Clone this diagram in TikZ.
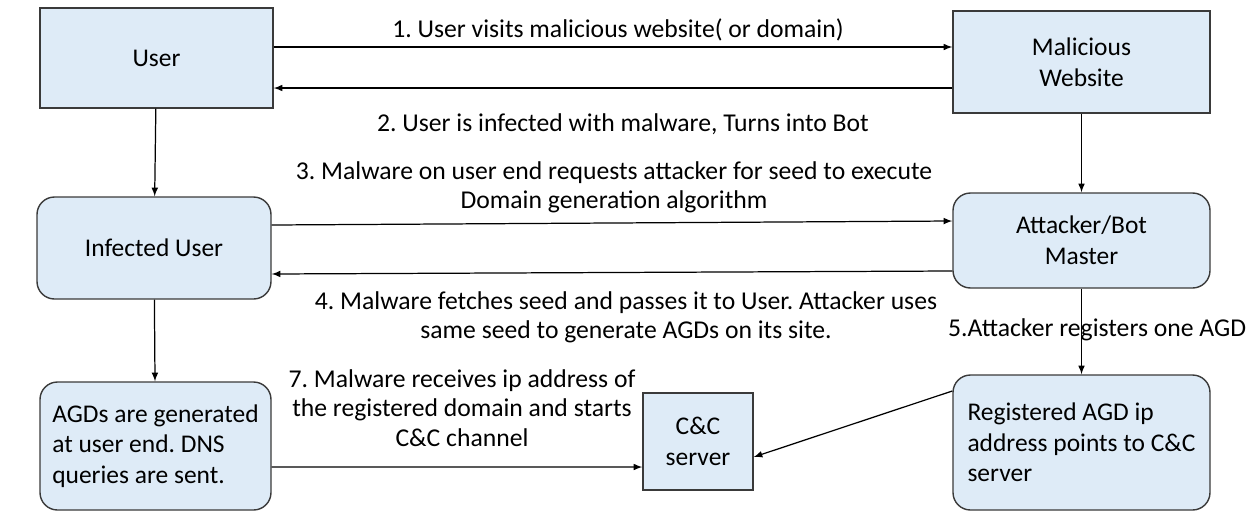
\documentclass[tikz,border=0pt]{standalone}
\usepackage{fontspec}
\setmainfont{Carlito}
\usetikzlibrary{arrows}
\definecolor{boxfill}{HTML}{DEEBF7}
\definecolor{boxline}{HTML}{3A3A3A}

\begin{document}
\begin{tikzpicture}[
    font=\fontsize{14.6pt}{16.8pt}\selectfont\frenchspacing,
    >=latex, line width=0.7pt,
    box/.style={draw=boxline, fill=boxfill, line width=0.8pt,
                font=\fontsize{14.5pt}{17.4pt}\selectfont\frenchspacing},
    roundbox/.style={box, rounded corners=0.35cm}
  ]
    \useasboundingbox (0,0) rectangle (25.06,-10.24);

    % boxes
    \node[box, minimum width=4.66cm, minimum height=2cm] (U) at (3.13,-1.16) {User};
    \node[box, minimum width=5.14cm, minimum height=2.04cm, align=center] (MW) at (21.63,-1.24) {Malicious\\Website};
    \node[roundbox, minimum width=4.68cm, minimum height=2.04cm] (IU) at (3.08,-4.96) {Infected User};
    \node[roundbox, minimum width=5.14cm, minimum height=1.9cm, align=center] (AB) at (21.63,-4.81) {Attacker/Bot\\Master};
    \node[roundbox, minimum width=4.62cm, minimum height=2.56cm, align=left] (AG) at (3.11,-8.92) {AGDs are generated\\at user end. DNS\\queries are sent.};
    \node[box, minimum width=2.2cm, minimum height=1.94cm, align=center] (CC) at (13.96,-8.83) {C\&C\\server};
    \node[roundbox, minimum width=5.14cm, minimum height=2.7cm, align=left] (RA) at (21.63,-8.85) {Registered AGD ip\\address points to C\&C\\server};

    % labels
    \node (L1) at (12.36,-0.6) {1. User visits malicious website( or domain)};
    \node (L2) at (12.46,-2.48) {2. User is infected with malware, Turns into Bot};
    \node[align=center] (L3) at (12.28,-3.75) {3. Malware on user end requests attacker for seed to execute\\Domain generation algorithm};
    \node[align=center] (L4) at (12.52,-6.35) {4. Malware fetches seed and passes it to User. Attacker uses\\same seed to generate AGDs on its site.};
    \node (L5) at (21.94,-6.6) {5.Attacker registers one AGD};
    \node[align=center] (L7) at (9.24,-8.16) {7. Malware receives ip address of\\the registered domain and starts\\C\&C channel};

    % arrows
    \draw[->] ([yshift=0.22cm]U.east) -- ([yshift=0.3cm]MW.west);
    \draw[->] ([yshift=-0.52cm]MW.west) -- ([yshift=-0.6cm]U.east);
    \draw[->] (U) -- (IU);
    \draw[->] (MW) -- (AB);
    \draw[->] ([yshift=0.46cm]IU.east) -- ([yshift=0.39cm]AB.west);
    \draw[->] ([yshift=-0.61cm]AB.west) -- ([yshift=-0.52cm]IU.east);
    \draw[->] (IU) -- (AG);
    \draw[->] (AB) -- (RA);
    \draw[->] ([yshift=-0.42cm]AG.east) -- ([yshift=-0.51cm]CC.west);
    \draw[->] ([yshift=1.03cm]RA.west) -- ([yshift=-0.31cm]CC.east);
\end{tikzpicture}
\end{document}
